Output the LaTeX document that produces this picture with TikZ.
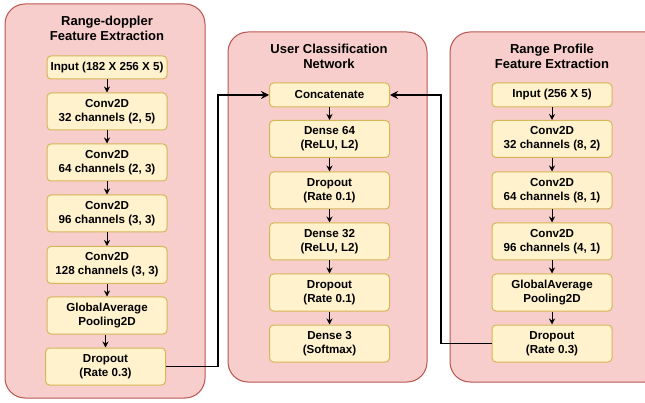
\documentclass[tikz,border=0pt]{standalone}
\usepackage{fontspec}
\setmainfont{Liberation Sans}
\usetikzlibrary{arrows.meta}
\definecolor{contfill}{HTML}{F8CECC}
\definecolor{contstroke}{HTML}{B85450}
\definecolor{boxfill}{HTML}{FFF2CC}
\definecolor{boxstroke}{HTML}{D6B656}
\tikzset{
  container/.style={draw=contstroke, fill=contfill, line width=1pt, rounded corners=20pt},
  title/.style={font=\bfseries\fontsize{13}{15}\selectfont, align=center, inner sep=0pt},
  layer/.style={draw=boxstroke, fill=boxfill, line width=1pt, rounded corners=4pt,
    minimum width=120pt, minimum height=37pt, inner sep=0pt, align=center,
    font=\bfseries\fontsize{11.6}{14}\selectfont},
  single/.style={layer, minimum height=23pt},
  flow/.style={-{Stealth[length=6pt,width=6pt]}, line width=1pt, black},
  link/.style={-{Stealth[length=8pt,width=8pt]}, line width=1.3pt, black}
}
\begin{document}
\begin{tikzpicture}[x=1pt,y=-1pt]
\useasboundingbox (0,0) rectangle (645,403);
\clip (0,0) rectangle (645,403);
% containers
\draw[container] (5,4) rectangle (205,398);
\draw[container] (228,32) rectangle (427,382);
\draw[container] (450,32) rectangle (665,382);
% titles
\node[title] (t1) at (107,28) {Range-doppler\\Feature Extraction};
\node[title] (t2) at (329,56) {User Classification\\Network};
\node[title] (t3) at (552,56) {Range Profile\\Feature Extraction};
% left column
\node[single] (l1) at (107,67.5) {Input (182 X 256 X 5)};
\node[layer] (l2) at (107,111.5) {Conv2D\\32 channels (2, 5)};
\node[layer] (l3) at (107,162.5) {Conv2D\\64 channels (2, 3)};
\node[layer] (l4) at (107,213.5) {Conv2D\\96 channels (3, 3)};
\node[layer] (l5) at (107,265) {Conv2D\\128 channels (3, 3)};
\node[layer] (l6) at (107,315.5) {GlobalAverage\\Pooling2D};
\node[layer] (l7) at (105.5,366.5) {Dropout\\(Rate 0.3)};
% middle column
\node[single, minimum height=24pt] (m1) at (329.5,95) {Concatenate};
\node[layer] (m2) at (329.5,139) {Dense 64\\(ReLU, L2)};
\node[layer] (m3) at (329.5,190.5) {Dropout\\(Rate 0.1)};
\node[layer] (m4) at (329.5,241.5) {Dense 32\\(ReLU, L2)};
\node[layer] (m5) at (329.5,292.5) {Dropout\\(Rate 0.1)};
\node[layer] (m6) at (329.5,343.5) {Dense 3\\(Softmax)};
% right column
\node[single, minimum height=24pt] (r1) at (552,95) {Input (256 X 5)};
\node[layer] (r2) at (552,139) {Conv2D\\32 channels (8, 2)};
\node[layer] (r3) at (552,190.5) {Conv2D\\64 channels (8, 1)};
\node[layer] (r4) at (552,241.5) {Conv2D\\96 channels (4, 1)};
\node[layer] (r5) at (552,292.5) {GlobalAverage\\Pooling2D};
\node[layer] (r6) at (552,343.5) {Dropout\\(Rate 0.3)};
% flows
\foreach \a/\b in {l1/l2,l2/l3,l3/l4,l4/l5,l5/l6,m1/m2,m2/m3,m3/m4,m4/m5,m5/m6,r1/r2,r2/r3,r3/r4,r4/r5,r5/r6}
  \draw[flow] (\a.south) -- (\b.north);
\draw[flow] (l6.south -| l7.north) -- (l7.north);
% links
\coordinate (c1) at (218,366.5);
\coordinate (c2) at (218,95);
\coordinate (c3) at (441,343.5);
\coordinate (c4) at (441,95);
\draw[link] (l7.east) -- (c1) -- (c2) -- (m1.west);
\draw[link] (r6.west) -- (c3) -- (c4) -- (m1.east);
\end{tikzpicture}
\end{document}
